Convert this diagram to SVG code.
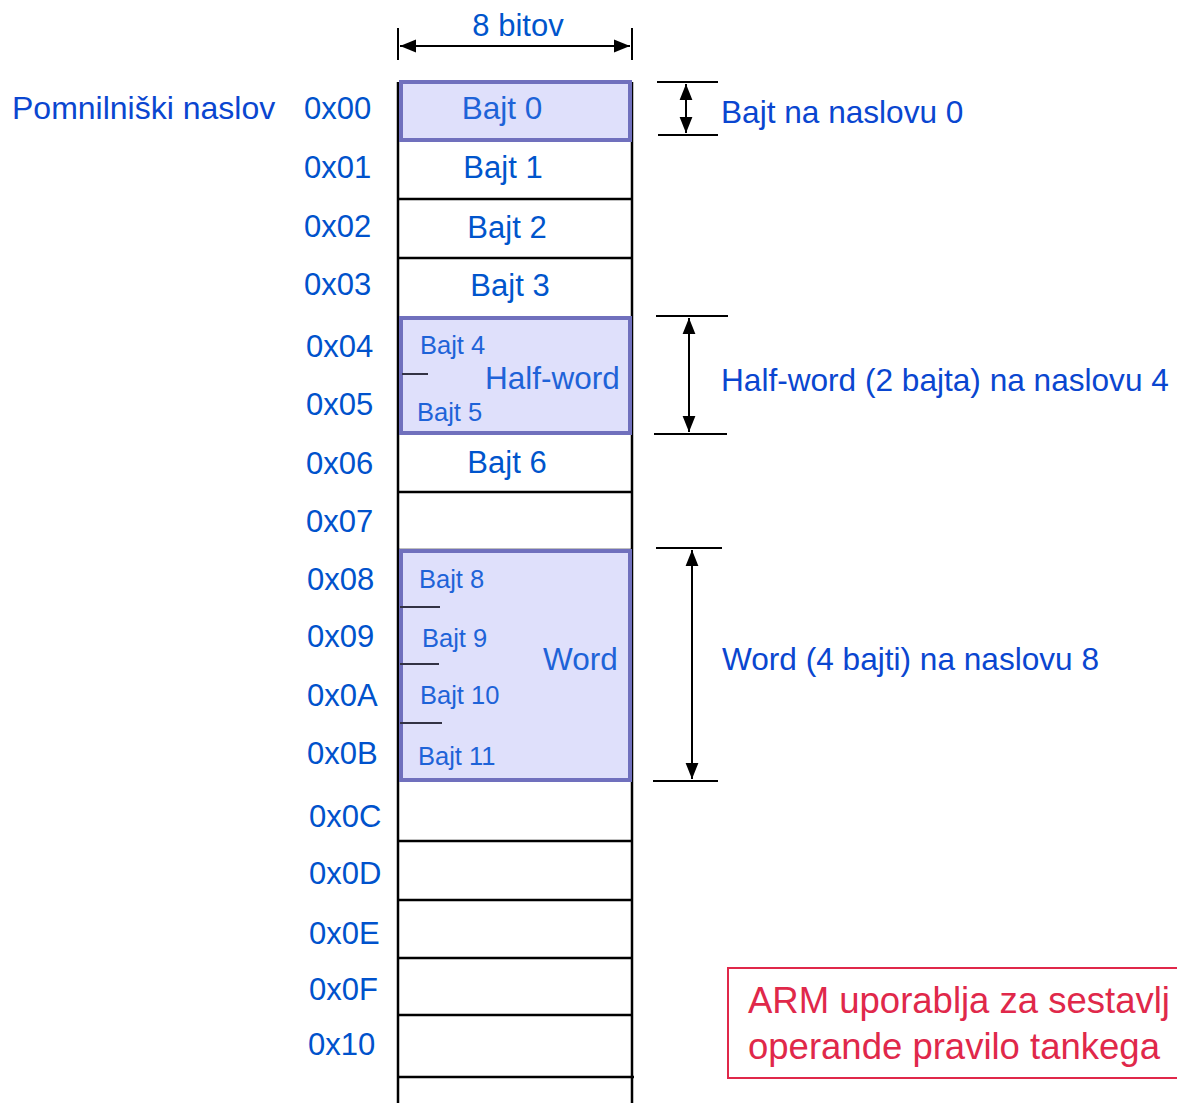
<svg xmlns="http://www.w3.org/2000/svg" width="1177" height="1103" viewBox="0 0 1177 1103">
<style>
text{font-family:"Liberation Sans",Arial,sans-serif}
.addr{font-size:31px;fill:#0052cc}
.lbl{font-size:31px;fill:#0055cc}
.small{font-size:25.5px;fill:#1e63d8}
.inbox{font-size:31.5px;fill:#1e63d8}
.ann{font-size:31.6px;fill:#0a46d0}
.line{stroke:#000;stroke-width:2.5;fill:none}
.thin{stroke:#000;stroke-width:2;fill:none}
.box{fill:#dfe0fb;stroke:#7070bd;stroke-width:4}
.div{stroke:#333344;stroke-width:2}
.red{font-size:36.5px;fill:#e0284a}
</style>
<defs>
<marker id="ahb" viewBox="0 0 10 10" refX="10" refY="5" markerWidth="16" markerHeight="16" markerUnits="userSpaceOnUse" orient="auto-start-reverse">
<path d="M0,1 L10,5 L0,9 z" fill="#000"/>
</marker>
</defs>

<g id="column">
<line class="line" x1="398" y1="82" x2="398" y2="1103"/>
<line class="line" x1="632" y1="82" x2="632" y2="1103"/>
<line class="line" x1="398" y1="199" x2="632" y2="199"/>
<line class="line" x1="398" y1="258" x2="632" y2="258"/>
<line class="line" x1="398" y1="492" x2="632" y2="492"/>
<line class="line" x1="398" y1="550" x2="632" y2="550"/>
<line class="line" x1="398" y1="841" x2="632" y2="841"/>
<line class="line" x1="398" y1="900" x2="632" y2="900"/>
<line class="line" x1="398" y1="958" x2="632" y2="958"/>
<line class="line" x1="398" y1="1015" x2="632" y2="1015"/>
<line class="line" x1="398" y1="1077" x2="634" y2="1077"/>
</g>

<g id="bajt0">
<rect class="box" x="401" y="82" width="229" height="58"/>
<text class="inbox" x="502" y="119" text-anchor="middle">Bajt 0</text>
</g>
<g id="bajt1"><text class="lbl" x="503" y="178" text-anchor="middle">Bajt 1</text></g>
<g id="bajt2"><text class="lbl" x="507" y="238" text-anchor="middle">Bajt 2</text></g>
<g id="bajt3"><text class="lbl" x="510" y="296" text-anchor="middle">Bajt 3</text></g>

<g id="halfword">
<rect class="box" x="401" y="318" width="229" height="115"/>
<line class="div" x1="402" y1="374" x2="428" y2="374"/>
<text class="small" x="420" y="354">Bajt 4</text>
<text class="inbox" x="485" y="389">Half-word</text>
<text class="small" x="417" y="421">Bajt 5</text>
</g>

<g id="bajt6"><text class="lbl" x="507" y="473" text-anchor="middle">Bajt 6</text></g>

<g id="word">
<rect class="box" x="401" y="551" width="229" height="229"/>
<line class="div" x1="400" y1="607" x2="440" y2="607"/>
<line class="div" x1="400" y1="664" x2="439" y2="664"/>
<line class="div" x1="400" y1="723" x2="442" y2="723"/>
<text class="small" x="419" y="588">Bajt 8</text>
<text class="small" x="422" y="647">Bajt 9</text>
<text class="inbox" x="543" y="670">Word</text>
<text class="small" x="420" y="704">Bajt 10</text>
<text class="small" x="418" y="765">Bajt 11</text>
</g>

<g id="addresses">
<text class="ann" x="12" y="119" style="font-size:32px">Pomnilniški naslov</text>
<text class="addr" x="304" y="119">0x00</text>
<text class="addr" x="304" y="178">0x01</text>
<text class="addr" x="304" y="237">0x02</text>
<text class="addr" x="304" y="295">0x03</text>
<text class="addr" x="306" y="357">0x04</text>
<text class="addr" x="306" y="415">0x05</text>
<text class="addr" x="306" y="474">0x06</text>
<text class="addr" x="306" y="532">0x07</text>
<text class="addr" x="307" y="590">0x08</text>
<text class="addr" x="307" y="647">0x09</text>
<text class="addr" x="307" y="706">0x0A</text>
<text class="addr" x="307" y="764">0x0B</text>
<text class="addr" x="309" y="827">0x0C</text>
<text class="addr" x="309" y="884">0x0D</text>
<text class="addr" x="309" y="944">0x0E</text>
<text class="addr" x="309" y="1000">0x0F</text>
<text class="addr" x="308" y="1055">0x10</text>
</g>

<g id="connectors">
<line class="thin" x1="398" y1="28" x2="398" y2="60"/>
<line class="thin" x1="632" y1="28" x2="632" y2="60"/>
<line class="thin" x1="400" y1="46" x2="630" y2="46" marker-start="url(#ahb)" marker-end="url(#ahb)"/>

<line class="thin" x1="657" y1="82" x2="718" y2="82"/>
<line class="thin" x1="658" y1="135" x2="718" y2="135"/>
<line class="thin" x1="686" y1="84" x2="686" y2="133" marker-start="url(#ahb)" marker-end="url(#ahb)"/>

<line class="thin" x1="656" y1="316" x2="728" y2="316"/>
<line class="thin" x1="654" y1="434" x2="727" y2="434"/>
<line class="thin" x1="689" y1="318" x2="689" y2="432" marker-start="url(#ahb)" marker-end="url(#ahb)"/>

<line class="thin" x1="656" y1="548" x2="722" y2="548"/>
<line class="thin" x1="653" y1="781" x2="718" y2="781"/>
<line class="thin" x1="692" y1="550" x2="692" y2="779" marker-start="url(#ahb)" marker-end="url(#ahb)"/>
</g>

<g id="labels">
<text class="lbl" x="518" y="36" text-anchor="middle">8 bitov</text>
<text class="ann" x="721" y="123">Bajt na naslovu 0</text>
<text class="ann" x="721" y="391">Half-word (2 bajta) na naslovu 4</text>
<text class="ann" x="722" y="670">Word (4 bajti) na naslovu 8</text>
</g>

<g id="note">
<rect x="728" y="968" width="460" height="110" fill="none" stroke="#e0284a" stroke-width="2"/>
<text class="red" x="748" y="1013">ARM uporablja za sestavlj</text>
<text class="red" x="748" y="1059">operande pravilo tankega</text>
</g>
</svg>
